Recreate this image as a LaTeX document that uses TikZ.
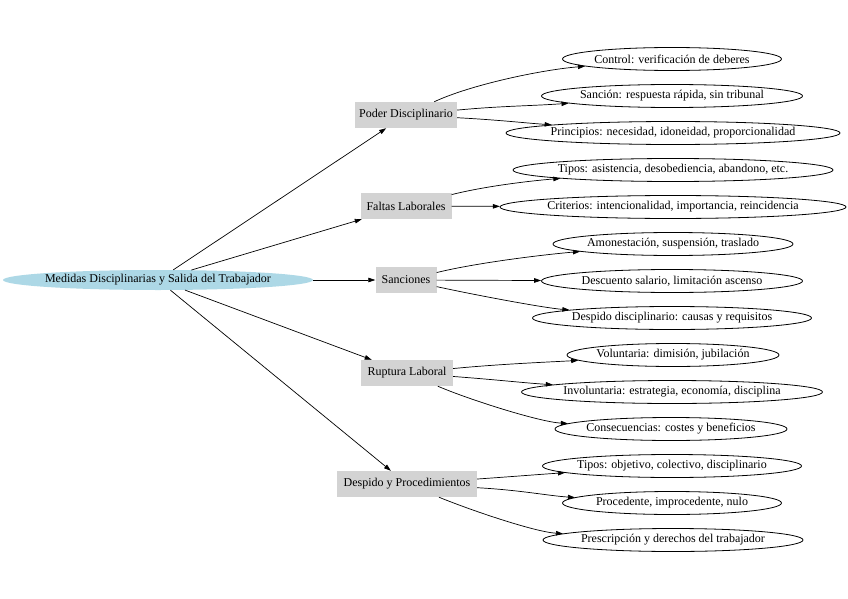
\documentclass[tikz,border=0pt]{standalone}
\usepackage{fontspec}
\setmainfont{Liberation Serif}
\usetikzlibrary{shapes.geometric,arrows.meta}
\definecolor{rootblue}{HTML}{ADD8E6}
\definecolor{boxgray}{HTML}{D3D3D3}
\begin{document}
\begin{tikzpicture}[x=1pt,y=-1pt,
  rootnode/.style={ellipse, fill=rootblue, minimum width=310pt, minimum height=20pt, inner xsep=-40pt, inner ysep=0pt, font=\fontsize{12}{14}\selectfont},
  midnode/.style={rectangle, fill=boxgray, minimum height=26pt, inner sep=0pt, font=\fontsize{12}{14}\selectfont},
  leafnode/.style={ellipse, draw=black, line width=0.8pt, minimum height=23pt, inner xsep=-40pt, inner ysep=0pt, font=\fontsize{12}{14}\selectfont},
  conn/.style={draw=black, line width=0.7pt, -{Triangle[length=7pt,width=4.5pt]}}
]
\fill[white] (0,0) rectangle (848,599);
\useasboundingbox (0,0) rectangle (848,599);

\node[rootnode] (root) at (158,280) {Medidas Disciplinarias y Salida del Trabajador};

\node[midnode, minimum width=102pt] (poder) at (406,115) {Poder Disciplinario};
\node[midnode, minimum width=91pt] (faltas) at (406,206) {Faltas Laborales};
\node[midnode, minimum width=61pt] (sanc) at (406,280) {Sanciones};
\node[midnode, minimum width=92pt] (rupt) at (407,373) {Ruptura Laboral};
\node[midnode, minimum width=140pt] (desp) at (407,484) {Despido y Procedimientos};

\node[leafnode, minimum width=219pt] (l1) at (672,59) {Control: verificación de deberes};
\node[leafnode, minimum width=261pt] (l2) at (672,96) {Sanción: respuesta rápida, sin tribunal};
\node[leafnode, minimum width=334pt] (l3) at (673,133) {Principios: necesidad, idoneidad, proporcionalidad};
\node[leafnode, minimum width=320pt] (l4) at (673,170) {Tipos: asistencia, desobediencia, abandono, etc.};
\node[leafnode, minimum width=346pt] (l5) at (673,207) {Criterios: intencionalidad, importancia, reincidencia};
\node[leafnode, minimum width=240pt] (l6) at (673,244) {Amonestación, suspensión, traslado};
\node[leafnode, minimum width=261pt] (l7) at (672,281) {Descuento salario, limitación ascenso};
\node[leafnode, minimum width=279pt] (l8) at (672,318) {Despido disciplinario: causas y requisitos};
\node[leafnode, minimum width=212pt] (l9) at (673,355) {Voluntaria: dimisión, jubilación};
\node[leafnode, minimum width=301pt] (l10) at (672,392) {Involuntaria: estrategia, economía, disciplina};
\node[leafnode, minimum width=232pt] (l11) at (671,429) {Consecuencias: costes y beneficios};
\node[leafnode, minimum width=259pt] (l12) at (672,466) {Tipos: objetivo, colectivo, disciplinario};
\node[leafnode, minimum width=219pt] (l13) at (672,503) {Procedente, improcedente, nulo};
\node[leafnode, minimum width=260pt] (l14) at (673,540) {Prescripción y derechos del trabajador};

\draw[conn] (root) -- (poder);
\draw[conn] (root) -- (faltas);
\draw[conn] (root) -- (sanc);
\draw[conn] (root) -- (rupt);
\draw[conn] (root) -- (desp);

\draw[conn] (poder) .. controls (470,85) and (540,70) .. (l1);
\draw[conn] (poder) .. controls (500,106) and (530,106) .. (l2);
\draw[conn] (poder) .. controls (500,120) and (525,123) .. (l3);
\draw[conn] (faltas) .. controls (490,185) and (540,180) .. (l4);
\draw[conn] (faltas) -- (l5);
\draw[conn] (sanc) .. controls (480,262) and (550,254) .. (l6);
\draw[conn] (sanc) -- (l7);
\draw[conn] (sanc) .. controls (480,296) and (545,308) .. (l8);
\draw[conn] (rupt) .. controls (500,364) and (550,362) .. (l9);
\draw[conn] (rupt) .. controls (500,380) and (525,383) .. (l10);
\draw[conn] (rupt) .. controls (470,400) and (540,422) .. (l11);
\draw[conn] (desp) .. controls (520,476) and (545,474) .. (l12);
\draw[conn] (desp) .. controls (520,490) and (550,496) .. (l13);
\draw[conn] (desp) .. controls (470,510) and (535,532) .. (l14);
\end{tikzpicture}
\end{document}
